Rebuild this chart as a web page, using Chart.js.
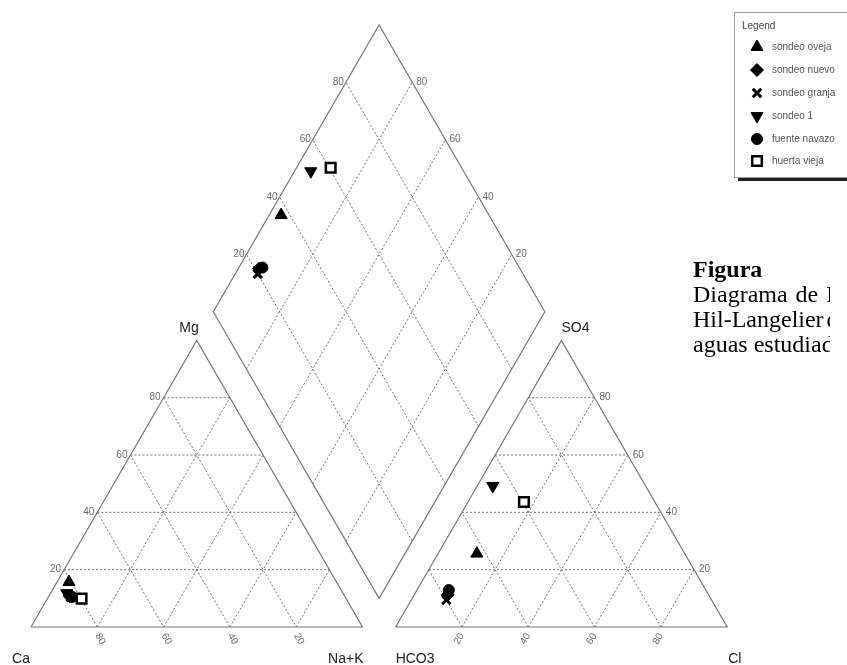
<!DOCTYPE html>
<html>
<head>
<meta charset="utf-8">
<script src="https://cdn.jsdelivr.net/npm/chart.js@4.4.1/dist/chart.umd.min.js"></script>
<style>
	body { margin: 0; background: #fff; width: 847px; height: 665px; overflow: hidden; position: relative; }
	#piper { position: absolute; left: 0; top: 0; }
	#caption {
		position: absolute; left: 693px; top: 257px; width: 137px; overflow: hidden;
		font-family: "Liberation Serif", "Times New Roman", serif;
		font-size: 24px; line-height: 25px; white-space: nowrap; color: #000;
	}
</style>
</head>
<body>
<canvas id="piper" width="847" height="665"></canvas>
<div id="caption"><b>Figura</b><br><span style="word-spacing:2px">Diagrama de Piper-</span><br><span style="word-spacing:-3px">Hil-Langelier de las</span><br>aguas estudiadas.</div>
<script>
// samples (legend order)
const samples = ['sondeo oveja', 'sondeo nuevo', 'sondeo granja', 'sondeo 1', 'fuente navazo', 'huerta vieja'];

// cations, % meq/l  (Ca = 100 - Mg - Na+K)
const mgPct  = [15.7, 10.8, 10.4, 11.8, 10.5,  9.9];
const nakPct = [ 3.6,  6.3,  6.8,  4.9,  7.1, 10.3];

// anions, % meq/l  (HCO3 = 100 - SO4 - Cl)
const so4Pct = [25.6, 11.2,  9.4, 49.2, 12.9, 43.6];
const clPct  = [11.7, 10.1, 10.6,  4.7,  9.6, 16.9];

const gridTicks = [20, 40, 60, 80];

// marker look for each sample
const markers = [
	{ pointStyle: 'triangle', rotation: 0,   radius: 7,   fill: '#000', borderWidth: 1 },
	{ pointStyle: 'rectRot',  rotation: 0,   radius: 6.5, fill: '#000', borderWidth: 1 },
	{ pointStyle: 'crossRot', rotation: 0,   radius: 6,   fill: '#000', borderWidth: 3 },
	{ pointStyle: 'triangle', rotation: 180, radius: 7,   fill: '#000', borderWidth: 1 },
	{ pointStyle: 'circle',   rotation: 0,   radius: 5.5, fill: '#000', borderWidth: 1 },
	{ pointStyle: 'rect',     rotation: 0,   radius: 6.8, fill: '#fff', borderWidth: 2.5 }
];

// geometry of the piper plot, in "percent" units
const H = Math.sqrt(3) / 2;
const GAP = 10;
const X0R = 100 + GAP;                  // left corner of anion triangle
const DB = { x: 100 + GAP / 2, y: GAP * H };   // bottom of the diamond

function cationPt(mg, nak) {
	return { x: nak + mg / 2, y: mg * H };
}
function anionPt(so4, cl) {
	return { x: X0R + cl + so4 / 2, y: so4 * H };
}
// a = SO4+Cl, b = Ca+Mg
function diamondPt(a, b) {
	return { x: DB.x + a / 2 - b / 2, y: DB.y + (a + b) * H };
}

const GAPPT = { x: null, y: null };

function buildGrid() {
	let pts = [];
	function seg(p, q) { pts.push(p, q, GAPPT); }
	gridTicks.forEach(k => {
		// cation triangle
		seg(cationPt(k, 0), cationPt(k, 100 - k));
		seg(cationPt(100 - k, 0), { x: 100 - k, y: 0 });
		seg({ x: k, y: 0 }, cationPt(100 - k, k));
		// anion triangle
		seg(anionPt(k, 0), anionPt(k, 100 - k));
		seg({ x: X0R + k, y: 0 }, anionPt(100 - k, k));
		seg({ x: X0R + 100 - k, y: 0 }, anionPt(100 - k, 0));
		// diamond
		seg(diamondPt(k, 0), diamondPt(k, 100));
		seg(diamondPt(0, k), diamondPt(100, k));
	});
	return pts;
}

function buildOutline() {
	return [
		{ x: 0, y: 0 }, { x: 100, y: 0 }, { x: 50, y: 100 * H }, { x: 0, y: 0 }, GAPPT,
		{ x: X0R, y: 0 }, { x: X0R + 100, y: 0 }, { x: X0R + 50, y: 100 * H }, { x: X0R, y: 0 }, GAPPT,
		diamondPt(0, 0), diamondPt(100, 0), diamondPt(100, 100), diamondPt(0, 100), diamondPt(0, 0)
	];
}

let datasets = [];

samples.forEach((name, i) => {
	let m = markers[i];
	let a = so4Pct[i] + clPct[i];
	let b = 100 - nakPct[i];
	datasets.push({
		label: name,
		data: [cationPt(mgPct[i], nakPct[i]), anionPt(so4Pct[i], clPct[i]), diamondPt(a, b)],
		pointStyle: m.pointStyle,
		rotation: m.rotation,
		pointRadius: m.radius,
		backgroundColor: m.fill,
		borderColor: '#000',
		borderWidth: m.borderWidth,
		showLine: false,
		order: 1
	});
});

datasets.push({
	label: 'grid',
	data: buildGrid(),
	showLine: true,
	pointRadius: 0,
	borderColor: '#6e6e6e',
	borderWidth: 1,
	borderDash: [2, 2],
	spanGaps: false,
	order: 10
});

datasets.push({
	label: 'outline',
	data: buildOutline(),
	showLine: true,
	pointRadius: 0,
	borderColor: '#777',
	borderWidth: 1.2,
	spanGaps: false,
	order: 9
});

function drawMarker(ctx, m, x, y) {
	ctx.fillStyle = m.fill;
	ctx.strokeStyle = '#000';
	ctx.lineWidth = m.borderWidth;
	if (Chart.helpers && Chart.helpers.drawPoint) {
		Chart.helpers.drawPoint(ctx, m, x, y);
	} else {
		ctx.beginPath();
		ctx.arc(x, y, m.radius, 0, Math.PI * 2);
		ctx.fill();
		ctx.stroke();
	}
}

const piperText = {
	id: 'piperText',
	afterDraw(chart) {
		const ctx = chart.ctx;
		const xs = chart.scales.x;
		const ys = chart.scales.y;
		const px = p => xs.getPixelForValue(p.x);
		const py = p => ys.getPixelForValue(p.y);
		const base = ys.getPixelForValue(0);

		ctx.save();
		ctx.fillStyle = '#6a6a6a';
		ctx.font = '10px "Liberation Sans", Arial, sans-serif';
		ctx.textBaseline = 'middle';

		gridTicks.forEach(k => {
			let p;
			// Mg on left side of cation triangle
			p = cationPt(k, 0);
			ctx.textAlign = 'right';
			ctx.fillText(String(k), px(p) - 3, py(p));
			// SO4 on right side of anion triangle
			p = anionPt(k, 100 - k);
			ctx.textAlign = 'left';
			ctx.fillText(String(k), px(p) + 5, py(p));
			// diamond, upper left edge: SO4+Cl
			p = diamondPt(k, 100);
			ctx.textAlign = 'right';
			ctx.fillText(String(k), px(p) - 2, py(p));
			// diamond, upper right edge: Ca+Mg
			p = diamondPt(100, k);
			ctx.textAlign = 'left';
			ctx.fillText(String(k), px(p) + 4, py(p));

			// Ca below cation base
			ctx.save();
			ctx.translate(xs.getPixelForValue(100 - k), base + 7);
			ctx.rotate(Math.PI / 3);
			ctx.textAlign = 'left';
			ctx.fillText(String(k), 0, 0);
			ctx.restore();
			// Cl below anion base
			ctx.save();
			ctx.translate(xs.getPixelForValue(X0R + k), base + 7);
			ctx.rotate(-Math.PI / 3);
			ctx.textAlign = 'right';
			ctx.fillText(String(k), 0, 0);
			ctx.restore();
		});

		// corner names
		ctx.fillStyle = '#222';
		ctx.font = '14px "Liberation Sans", Arial, sans-serif';
		let yb = base + 32;
		ctx.textAlign = 'right';
		ctx.fillText('Ca', xs.getPixelForValue(0) - 1, yb);
		ctx.fillText('Na+K', xs.getPixelForValue(100) + 1, yb);
		ctx.textAlign = 'left';
		ctx.fillText('HCO3', xs.getPixelForValue(X0R), yb);
		ctx.fillText('Cl', xs.getPixelForValue(X0R + 100) + 1, yb);
		let yt = ys.getPixelForValue(100 * H) - 12;
		ctx.textAlign = 'right';
		ctx.fillText('Mg', xs.getPixelForValue(50) + 2, yt);
		ctx.textAlign = 'left';
		ctx.fillText('SO4', xs.getPixelForValue(X0R + 50), yt);

		// legend box
		ctx.fillStyle = '#222';
		ctx.fillRect(738, 178, 120, 3);
		ctx.fillStyle = '#fff';
		ctx.fillRect(734, 12, 130, 166);
		ctx.strokeStyle = '#9a9a9a';
		ctx.lineWidth = 1;
		ctx.strokeRect(734.5, 12.5, 130, 165);

		ctx.font = '10px "Liberation Sans", Arial, sans-serif';
		ctx.fillStyle = '#444';
		ctx.textAlign = 'left';
		ctx.fillText('Legend', 742, 26);

		let rowY = [47, 70, 93, 116, 139, 161];
		samples.forEach((name, i) => {
			drawMarker(ctx, markers[i], 757, rowY[i]);
			ctx.fillStyle = '#555';
			ctx.fillText(name, 772, rowY[i]);
		});
		ctx.restore();
	}
};

const PXU = 3.315;   // px per unit, horizontal
const PYU = 3.31;    // px per unit, vertical
const ORX = 31;      // pixel of x = 0
const ORY = 627;     // pixel of y = 0

let config = {
	type: 'scatter',
	data: { datasets: datasets },
	options: {
		responsive: false,
		devicePixelRatio: 1,
		animation: false,
		events: [],
		layout: { padding: 0, autoPadding: false },
		scales: {
			x: { type: 'linear', display: false, min: -ORX / PXU, max: (847 - ORX) / PXU },
			y: { type: 'linear', display: false, min: (ORY - 665) / PYU, max: ORY / PYU }
		},
		plugins: {
			legend: { display: false },
			tooltip: { enabled: false }
		}
	},
	plugins: [piperText]
};

let chart = new Chart(document.getElementById('piper').getContext('2d'), config);
</script>
</body>
</html>
